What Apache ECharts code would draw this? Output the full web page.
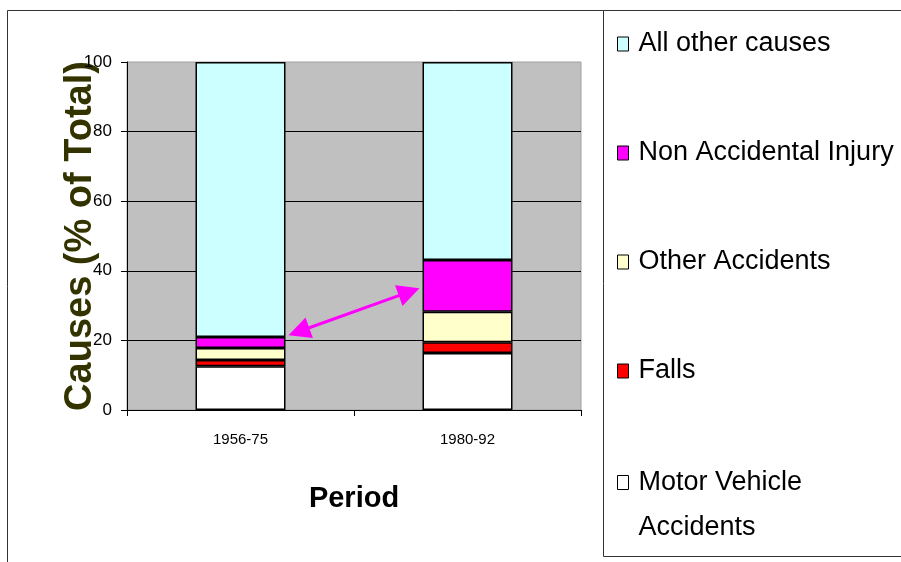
<!DOCTYPE html>
<html>
<head>
<meta charset="utf-8">
<title>Causes by period</title>
<script src="https://cdn.jsdelivr.net/npm/echarts@6/dist/echarts.min.js"></script>
<style>
html, body { margin: 0; padding: 0; background: #fff; }
#chart { width: 901px; height: 562px; }
</style>
</head>
<body>
<div id="chart"></div>
<script>
// data (percent of total)
var categories = ['1956-75', '1980-92'];
var motorVehicle = [12.6, 16.4];
var falls = [1.8, 3.1];
var otherAccidents = [3.4, 8.7];
var nonAccidental = [3.2, 14.9];
var allOther = [79.0, 56.9];
var yTicks = [0, 20, 40, 60, 80, 100];
// arrow between the NAI tops: [category index, value]
var arrowFrom = [0, 21.5];
var arrowTo = [1, 35];

var FONT = "'Liberation Sans', Arial, sans-serif";
var BAR_W = 90;

var chart = echarts.init(document.getElementById('chart'));

function stackBar(name, data, color) {
    return {
        name: name,
        type: 'bar',
        stack: 'total',
        data: data,
        barWidth: BAR_W,
        itemStyle: { color: color, borderColor: '#000', borderWidth: 1.5 },
        emphasis: { disabled: true }
    };
}

var legendBase = {
    orient: 'vertical',
    left: 617,
    padding: 0,
    itemWidth: 11,
    itemHeight: 14,
    icon: 'rect',
    selectedMode: false,
    itemStyle: { borderColor: '#000', borderWidth: 1 },
    textStyle: { fontFamily: FONT, fontSize: 27, color: '#000', lineHeight: 30, padding: [0, 0, 0, 5] }
};

var option = {
    animation: false,
    backgroundColor: '#fff',
    grid: {
        left: 127, right: 320, top: 62, bottom: 152,
        show: true,
        backgroundColor: '#c0c0c0',
        borderColor: '#a0a0a0',
        borderWidth: 1
    },
    legend: [
        Object.assign({}, legendBase, {
            top: 29,
            itemGap: 79,
            data: ['All other causes', 'Non Accidental Injury', 'Other Accidents', 'Falls']
        }),
        // two-line entry: a blank first line keeps the icon level with "Motor Vehicle"
        Object.assign({}, legendBase, {
            top: 415,
            data: ['Motor Vehicle Accidents'],
            formatter: function (n) { return '\u00a0\n' + n.replace('Vehicle ', 'Vehicle\n'); },
            textStyle: { fontFamily: FONT, fontSize: 27, color: '#000', lineHeight: 45, padding: [0, 0, 0, 5] }
        })
    ],
    xAxis: {
        type: 'category',
        data: categories,
        name: 'Period',
        nameLocation: 'middle',
        nameGap: 74,
        nameTextStyle: { fontFamily: FONT, fontSize: 29, fontWeight: 'bold', color: '#000' },
        axisLine: { lineStyle: { color: '#000', width: 1 } },
        axisTick: { show: true, length: 6, lineStyle: { color: '#000' } },
        axisLabel: { fontFamily: FONT, fontSize: 15, color: '#000', margin: 22 }
    },
    yAxis: {
        type: 'value',
        min: yTicks[0],
        max: yTicks[yTicks.length - 1],
        interval: yTicks[1] - yTicks[0],
        name: 'Causes (% of Total)',
        nameLocation: 'middle',
        nameRotate: 90,
        nameGap: 27,
        nameMoveOverlap: false,
        nameTextStyle: { fontFamily: FONT, fontSize: 38, fontWeight: 'bold', color: '#333300' },
        axisLine: { show: true, lineStyle: { color: '#000', width: 1 } },
        axisTick: { show: true, length: 6, lineStyle: { color: '#000' } },
        axisLabel: { fontFamily: FONT, fontSize: 17, color: '#000', margin: 15 },
        splitLine: { show: true, showMaxLine: false, lineStyle: { color: '#000', width: 1 } }
    },
    series: [
        stackBar('Motor Vehicle Accidents', motorVehicle, '#ffffff'),
        stackBar('Falls', falls, '#ff0000'),
        stackBar('Other Accidents', otherAccidents, '#ffffcc'),
        stackBar('Non Accidental Injury', nonAccidental, '#ff00ff'),
        stackBar('All other causes', allOther, '#ccffff')
    ]
};
chart.setOption(option);

// arrow ends come from the grid's own scales
var a = chart.convertToPixel({ gridIndex: 0 }, arrowFrom);
var b = chart.convertToPixel({ gridIndex: 0 }, arrowTo);
a[0] += BAR_W / 2 + 3;
b[0] -= BAR_W / 2 + 3;
var dx = b[0] - a[0], dy = b[1] - a[1];
var len = Math.sqrt(dx * dx + dy * dy);
var ux = dx / len, uy = dy / len, nx = -uy, ny = ux;
var HL = 22, HW = 11;
function head(tip, dir) {
    var bx = tip[0] + dir * ux * HL, by = tip[1] + dir * uy * HL;
    return [tip, [bx + nx * HW, by + ny * HW], [bx - nx * HW, by - ny * HW]];
}
var pink = '#ff00ff';

chart.setOption({
    graphic: [
        { type: 'rect', silent: true, shape: { x: 7.5, y: 10.5, width: 1000, height: 1000 },
          style: { fill: null, stroke: '#333', lineWidth: 1 } },
        { type: 'rect', silent: true, shape: { x: 603.5, y: 10.5, width: 400, height: 546 },
          style: { fill: null, stroke: '#333', lineWidth: 1 } },
        { type: 'line', silent: true, z: 100,
          shape: { x1: a[0] + ux * HL * 0.8, y1: a[1] + uy * HL * 0.8, x2: b[0] - ux * HL * 0.8, y2: b[1] - uy * HL * 0.8 },
          style: { stroke: pink, lineWidth: 3 } },
        { type: 'polygon', silent: true, z: 100, shape: { points: head(a, 1) }, style: { fill: pink } },
        { type: 'polygon', silent: true, z: 100, shape: { points: head(b, -1) }, style: { fill: pink } }
    ]
});
</script>
</body>
</html>
